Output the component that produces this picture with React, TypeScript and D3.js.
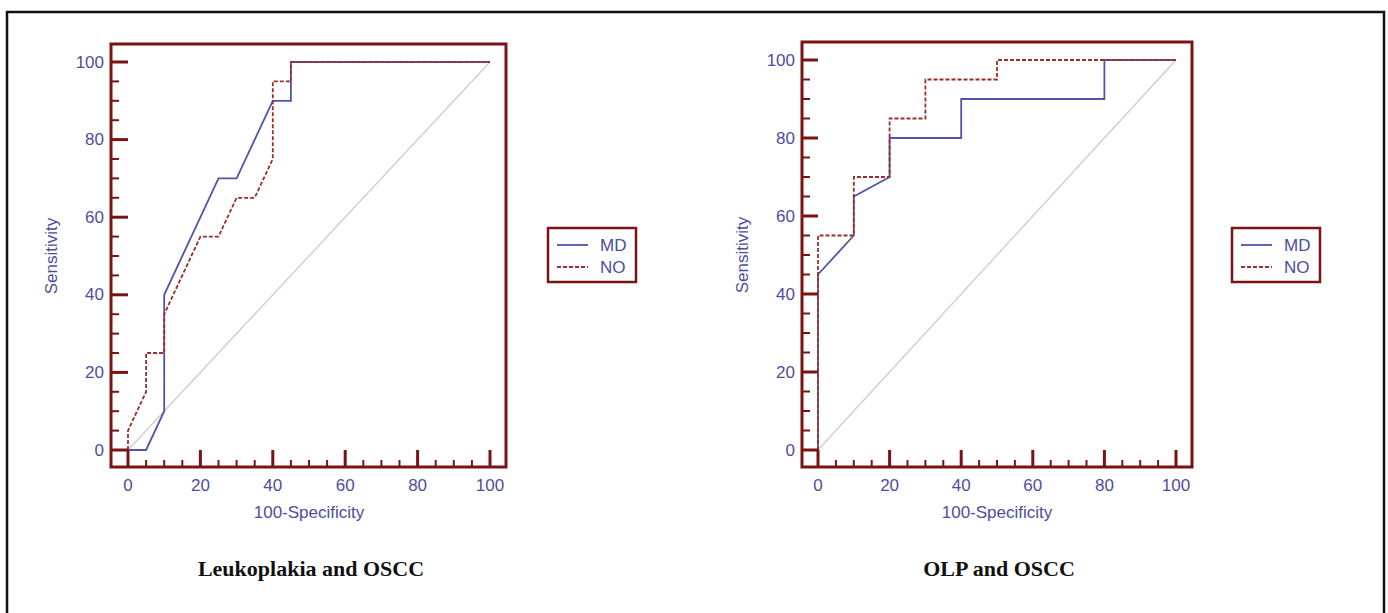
import React from 'react'
import * as d3 from 'd3'

// ROC points: [100-Specificity, Sensitivity]
const leukoMD: [number, number][] = [[0, 0], [5, 0], [10, 10], [10, 40], [25, 70], [30, 70], [40, 90], [45, 90], [45, 100], [100, 100]]
const leukoNO: [number, number][] = [[0, 0], [0, 5], [5, 15], [5, 25], [10, 25], [10, 35], [20, 55], [25, 55], [30, 65], [35, 65], [40, 75], [40, 95], [45, 95], [45, 100], [100, 100]]
const olpMD: [number, number][] = [[0, 0], [0, 45], [10, 55], [10, 65], [20, 70], [20, 80], [40, 80], [40, 90], [80, 90], [80, 100], [100, 100]]
const olpNO: [number, number][] = [[0, 0], [0, 55], [10, 55], [10, 70], [20, 70], [20, 85], [30, 85], [30, 95], [50, 95], [50, 100], [100, 100]]
const majorTicks = [0, 20, 40, 60, 80, 100]
const minorTicks = d3.range(0, 101, 5)
const legendLabels = ['MD', 'NO']

const FRAME = '#7a1414'
const BLUE = '#5454a6'
const TEXT = '#4e4e9c'
const RED = '#9c2e2e'
const DIAG = '#d8c8c8'
const SANS = 'Arial, "Liberation Sans", sans-serif'

type PanelProps = {
  frame: { x0: number; x1: number; y0: number; y1: number }
  xr: [number, number]
  yr: [number, number]
  md: [number, number][]
  no: [number, number][]
  legendX: number
  title: string
}

function Panel({ frame, xr, yr, md, no, legendX, title }: PanelProps) {
  const x = d3.scaleLinear().domain([0, 100]).range(xr)
  const y = d3.scaleLinear().domain([0, 100]).range(yr)
  const line = d3.line<[number, number]>().x(d => x(d[0])).y(d => y(d[1]))
  const cx = (xr[0] + xr[1]) / 2
  const cy = (yr[0] + yr[1]) / 2

  return (
    <g>
      {/* diagonal reference */}
      <line x1={x(0)} y1={y(0)} x2={x(100)} y2={y(100)} stroke={DIAG} strokeWidth={1.3} />
      <path d={line(md) || ''} fill="none" stroke={BLUE} strokeWidth={1.8} />
      <path d={line(no) || ''} fill="none" stroke={RED} strokeWidth={1.8} strokeDasharray="4,2" />

      {/* ticks */}
      {minorTicks.map(t => {
        const major = t % 20 === 0
        return (
          <g key={'t' + t}>
            <line x1={frame.x0} x2={major ? x(0) : frame.x0 + 8} y1={y(t)} y2={y(t)}
              stroke={FRAME} strokeWidth={major ? 3 : 2} />
            <line y1={frame.y1} y2={major ? y(0) : frame.y1 - 7} x1={x(t)} x2={x(t)}
              stroke={FRAME} strokeWidth={major ? 3 : 2} />
          </g>
        )
      })}
      <rect x={frame.x0} y={frame.y0} width={frame.x1 - frame.x0} height={frame.y1 - frame.y0}
        fill="none" stroke={FRAME} strokeWidth={3} />

      {majorTicks.map(t => (
        <g key={'l' + t} fontFamily={SANS} fontSize={17} fill={TEXT}>
          <text x={frame.x0 - 7} y={y(t)} textAnchor="end" dominantBaseline="central">{t}</text>
          <text x={x(t)} y={frame.y1 + 18} textAnchor="middle" dominantBaseline="central">{t}</text>
        </g>
      ))}
      <text x={cx} y={frame.y1 + 45} textAnchor="middle" dominantBaseline="central"
        fontFamily={SANS} fontSize={17} fill={TEXT}>100-Specificity</text>
      <text transform={`translate(${frame.x0 - 60},${cy}) rotate(-90)`} textAnchor="middle"
        dominantBaseline="central" fontFamily={SANS} fontSize={17} fill={TEXT}>Sensitivity</text>

      {/* legend */}
      <rect x={legendX} y={228} width={88} height={54} fill="none" stroke={FRAME} strokeWidth={2.5} />
      {legendLabels.map((lab, i) => (
        <g key={lab}>
          <line x1={legendX + 9} x2={legendX + 40} y1={245 + i * 22} y2={245 + i * 22}
            stroke={i === 0 ? BLUE : RED} strokeWidth={1.8} strokeDasharray={i === 0 ? undefined : '4,2'} />
          <text x={legendX + 52} y={245 + i * 22} dominantBaseline="central"
            fontFamily={SANS} fontSize={17} fill={TEXT}>{lab}</text>
        </g>
      ))}

      <text x={cx + 2} y={568} textAnchor="middle" dominantBaseline="central"
        fontFamily='"Liberation Serif", "Times New Roman", serif' fontWeight="bold" fontSize={22} fill="#111">{title}</text>
    </g>
  )
}

export default function App() {
  return (
    <div style={{ position: 'absolute', left: 0, top: 0 }}>
      <svg width={1388} height={613} style={{ display: 'block', background: '#fff' }}>
        <rect x={7} y={12} width={1377} height={620} fill="none" stroke="#111" strokeWidth={2.5} />
        <Panel frame={{ x0: 111, x1: 506, y0: 44, y1: 467 }} xr={[128, 490]} yr={[450, 62]}
          md={leukoMD} no={leukoNO} legendX={548} title="Leukoplakia and OSCC" />
        <Panel frame={{ x0: 802, x1: 1192, y0: 42, y1: 467 }} xr={[818, 1176]} yr={[450, 60]}
          md={olpMD} no={olpNO} legendX={1232} title="OLP and OSCC" />
      </svg>
    </div>
  )
}
